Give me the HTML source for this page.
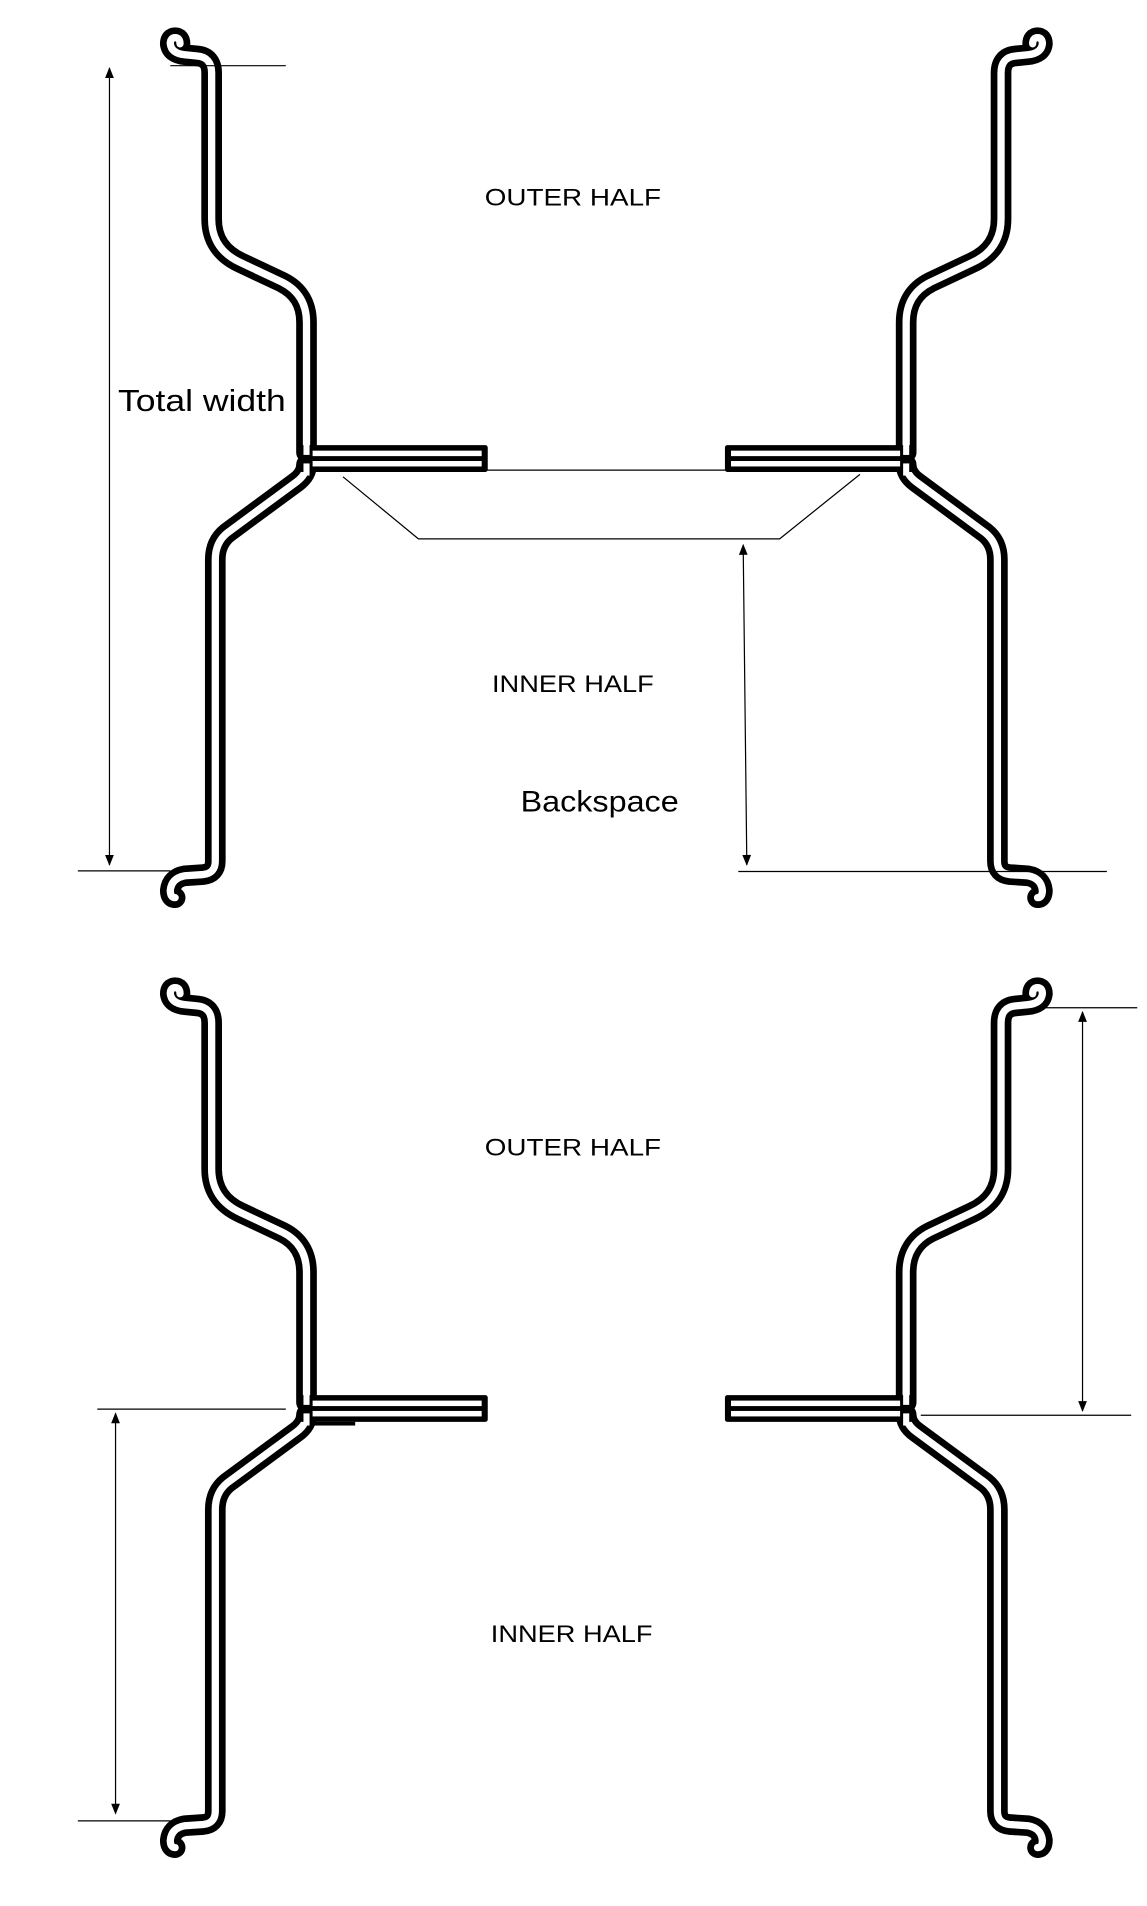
<!DOCTYPE html>
<html><head><meta charset="utf-8"><style>
html,body{margin:0;padding:0;background:#fff;}
svg{display:block;}
text{font-family:"Liberation Sans",sans-serif;fill:#000;}
</style></head><body>
<svg width="1147" height="1906" viewBox="0 0 943 1567" xmlns="http://www.w3.org/2000/svg">
<defs>
<marker id="ah" viewBox="0 0 10 10" refX="9" refY="5" markerWidth="10" markerHeight="9" orient="auto-start-reverse" markerUnits="userSpaceOnUse">
<path d="M0,1 L10,5 L0,9 z" fill="#000"/>
</marker>
<g id="wheel">
  <g fill="none" stroke-linejoin="round" stroke-linecap="round">
    <path d="M148,36 Q148,31 144,31 Q140,31 140,36 Q141,44 152,45 L162,46 Q174,47 174,60 L174,180 Q174,205 198,216 L232,232 Q252,242 252,265 L252,372" stroke="#000" stroke-width="17"/>
    <path d="M148,36 Q148,31 144,31 Q140,31 140,36 Q141,44 152,45 L162,46 Q174,47 174,60 L174,180 Q174,205 198,216 L232,232 Q252,242 252,265 L252,372" stroke="#fff" stroke-width="6"/>
    <path d="M252,382 Q252,390 244,396 L187,438 Q177,446 177,460 L177,708 Q177,718 167,719 L152,720 Q141,722 140,732 Q140,738 144,738" stroke="#000" stroke-width="17"/>
    <path d="M252,382 Q252,390 244,396 L187,438 Q177,446 177,460 L177,708 Q177,718 167,719 L152,720 Q141,722 140,732 Q140,738 144,738" stroke="#fff" stroke-width="6"/>
  </g>
  <rect x="246" y="366" width="155" height="22" rx="2" fill="#000"/>
  <rect x="257" y="370.5" width="139" height="4.5" fill="#fff"/>
  <rect x="257" y="379" width="139" height="4.5" fill="#fff"/>
  <rect x="249.5" y="362" width="5" height="12" fill="#fff"/>
  <rect x="249.5" y="381" width="5" height="10" fill="#fff"/>
</g>
</defs>

<use href="#wheel"/>
<use href="#wheel" transform="translate(997,0) scale(-1,1)"/>
<g stroke="#000" stroke-width="1" fill="none">
  <line x1="140" y1="54" x2="235" y2="54"/>
  <line x1="90" y1="56" x2="90" y2="711" marker-start="url(#ah)" marker-end="url(#ah)"/>
  <line x1="64" y1="716" x2="140" y2="716"/>
  <line x1="400" y1="386.5" x2="600" y2="386.5"/>
  <polyline points="282,392 344,443 641,443 707,390"/>
  <line x1="611" y1="448" x2="614" y2="711" marker-start="url(#ah)" marker-end="url(#ah)"/>
  <line x1="607" y1="716.5" x2="910" y2="716.5"/>
</g>
<text x="471" y="169" font-size="20" text-anchor="middle" textLength="145" lengthAdjust="spacingAndGlyphs">OUTER  HALF</text>
<text x="97" y="338" font-size="25" textLength="138" lengthAdjust="spacingAndGlyphs">Total width</text>
<text x="471" y="569" font-size="20" text-anchor="middle" textLength="133" lengthAdjust="spacingAndGlyphs">INNER HALF</text>
<text x="428" y="667" font-size="24" textLength="130" lengthAdjust="spacingAndGlyphs">Backspace</text>

<g transform="translate(0,781)">
  <use href="#wheel"/>
  <use href="#wheel" transform="translate(997,0) scale(-1,1)"/>
  <rect x="256" y="388" width="36" height="3" fill="#000"/>
</g>
<g stroke="#000" stroke-width="1" fill="none">
  <line x1="80" y1="1158.5" x2="235" y2="1158.5"/>
  <line x1="95" y1="1162" x2="95" y2="1491" marker-start="url(#ah)" marker-end="url(#ah)"/>
  <line x1="64" y1="1497" x2="140" y2="1497"/>
  <line x1="855" y1="828.5" x2="935" y2="828.5"/>
  <line x1="890" y1="832" x2="890" y2="1160" marker-start="url(#ah)" marker-end="url(#ah)"/>
  <line x1="757" y1="1163.5" x2="930" y2="1163.5"/>
</g>
<text x="471" y="950" font-size="20" text-anchor="middle" textLength="145" lengthAdjust="spacingAndGlyphs">OUTER  HALF</text>
<text x="470" y="1350" font-size="20" text-anchor="middle" textLength="133" lengthAdjust="spacingAndGlyphs">INNER HALF</text>
</svg>
</body></html>
